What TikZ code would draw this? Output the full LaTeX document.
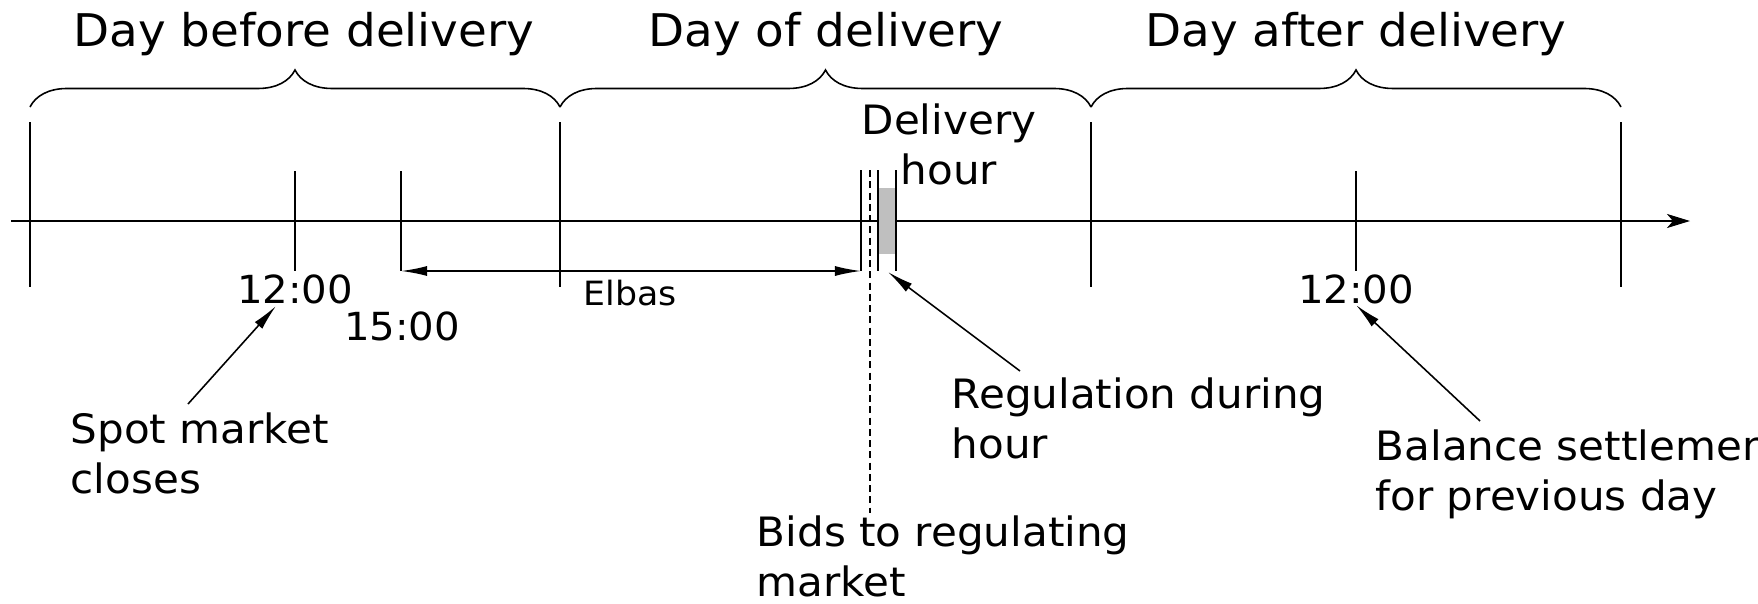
\documentclass[tikz,border=0pt]{standalone}
\usepackage{fontspec}
\setmainfont{DejaVu Sans}[FakeStretch=1.04]
\usetikzlibrary{arrows.meta,decorations.pathreplacing}

\begin{document}
\begin{tikzpicture}[x=0.01cm, y=-0.01cm, line width=0.45pt,
  daybrace/.style={decorate, decoration={brace, amplitude=0.37cm}},
  dayname/.style={font=\fontsize{12.8}{15}\selectfont, inner sep=0pt, anchor=base},
  clock/.style={font=\fontsize{11}{14}\selectfont, inner sep=0pt, anchor=base},
  note/.style={font=\fontsize{11.5}{14}\selectfont, inner sep=0pt, align=left, anchor=base west},
  pointer/.style={-{Latex[length=0.26cm, width=0.1cm]}}]
\useasboundingbox (0,0) rectangle (1758,603);

% time axis
\draw[line width=0.6pt, -{Stealth[length=0.23cm, width=0.14cm, inset=0.06cm]}] (11,221) -- (1690,221);

% days
\foreach \x in {30,560,1091,1621} {\draw (\x,122) -- (\x,287);}
\draw[daybrace] (30,107) -- (560,107);
\draw[daybrace] (560,107) -- (1091,107);
\draw[daybrace] (1091,107) -- (1621,107);
\node[dayname] (before) at (304,47) {Day before delivery};
\node[dayname] (of) at (826,47) {Day of delivery};
\node[dayname] (after) at (1356,47) {Day after delivery};

% clock times
\foreach \x in {295,401,1356} {\draw (\x,171) -- (\x,271);}
\node[clock] (spotclose) at (295,303) {12:00};
\node[clock] (elbasopen) at (402,340) {15:00};
\node[clock] (settle) at (1356,303) {12:00};

% delivery hour
\fill[gray!50] (878,188) rectangle (896,254);
\draw (861,170) -- (861,271);
\draw[dash pattern=on 2pt off 1.2pt] (870,170) -- (870,513);
\draw (878,170) -- (878,271);
\draw (896,170) -- (896,271);
\node[font=\fontsize{11.5}{14}\selectfont, inner sep=0pt, align=center, anchor=base] (hour) at (949,184) {Delivery\\hour};

% elbas trading
\coordinate (elbasstart) at (401,271);
\coordinate (elbasend) at (861,271);
\draw[{Latex[length=0.26cm, width=0.1cm]}-{Latex[length=0.26cm, width=0.1cm]}] (elbasstart) -- (elbasend);
\node[font=\fontsize{9.5}{12}\selectfont, inner sep=0pt, anchor=base] (elbas) at (630,305) {Elbas};

% notes (base is the last line)
\node[note] (spotnote) at (70,493) {Spot market\\closes};
\node[note] (regnote) at (951,458) {Regulation during\\hour};
\node[note] (bidnote) at (756,596) {Bids to regulating\\market};
\node[note] (balnote) at (1375,510) {Balance settlement\\for previous day};

\coordinate (spotfoot) at (188,404);
\coordinate (spottip) at (276,306);
\coordinate (regfoot) at (1020,371);
\coordinate (regtip) at (888,272);
\coordinate (balfoot) at (1480,421);
\coordinate (baltip) at (1356,305);
\draw[pointer] (spotfoot) -- (spottip);
\draw[pointer] (regfoot) -- (regtip);
\draw[pointer] (balfoot) -- (baltip);
\end{tikzpicture}
\end{document}
